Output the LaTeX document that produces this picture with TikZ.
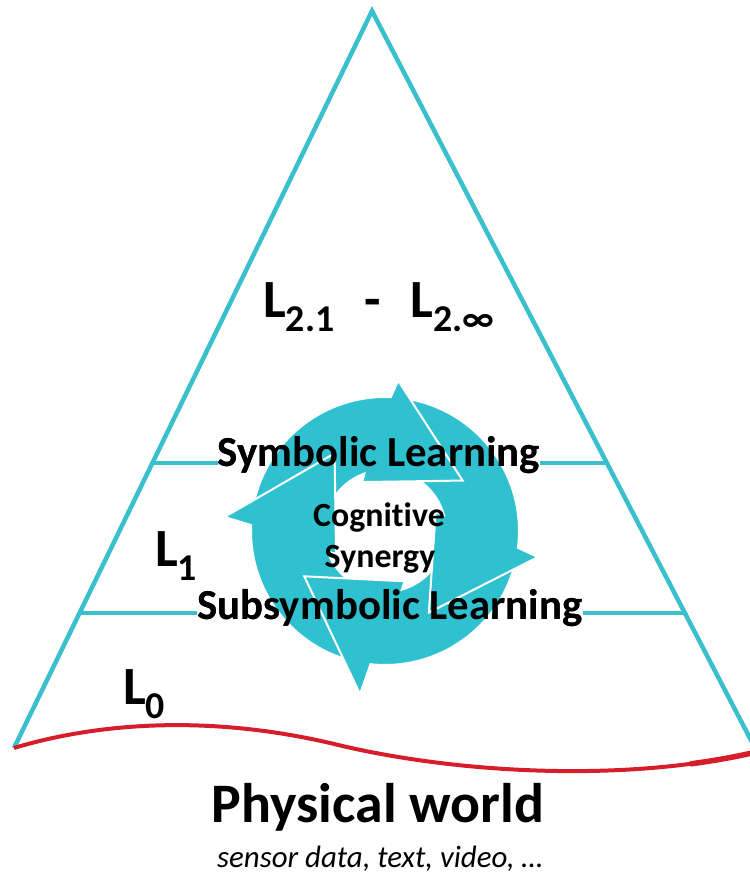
\documentclass[tikz,border=0pt]{standalone}
\usepackage{fontspec}
\setmainfont{Carlito}[Ligatures=NoCommon]
\usetikzlibrary{calc}
\definecolor{ringc}{RGB}{48,193,208}
\definecolor{linec}{RGB}{58,192,204}
\definecolor{redc}{RGB}{214,30,42}
\newcommand\lsub[1]{\raisebox{-14bp}{\fontsize{38}{38}\selectfont #1}}
% #1 rotation, #2 local tail angle, #3 tip radius
\newcommand\cycarrow[3]{%
  \path[ringarrow,shift={(C)},rotate=#1] (#2:134) arc[start angle=#2,end angle=87.5,radius=134]
    -- (85:#3) -- (33:92.6) -- (115:54) -- (109.8:61)
    arc[start angle=109.8,end angle=#2,radius=61] -- cycle;}
\begin{document}
\begin{tikzpicture}[x=1bp,y=1bp,
  tri/.style={draw=linec,line width=4.5bp,line join=miter},
  hline/.style={draw=linec,line width=4.5bp},
  ringarrow/.style={fill=ringc,draw=white,line width=2bp,line join=miter},
  bigL/.style={font=\fontsize{54}{54}\selectfont\bfseries,inner sep=0pt,anchor=base west},
  lbl/.style={inner sep=0pt,anchor=base},
  lvl/.style={lbl,font=\fontsize{43}{43}\selectfont\bfseries}]
\useasboundingbox (0,0) rectangle (750,883);
\coordinate (A) at (372,872);
\coordinate (BL) at (14,135);
\coordinate (BR) at (755,135);
\coordinate (C) at (385,352);
\coordinate (uL) at ($(A)!0.6133!(BL)$);
\coordinate (uR) at ($(A)!0.6133!(BR)$);
\coordinate (lL) at ($(A)!0.8168!(BL)$);
\coordinate (lR) at ($(A)!0.8168!(BR)$);

% triangle
\draw[tri] (BL) -- (A) -- (BR);

% level text nodes (placed first so the lines can reach them)
\node[lvl] (sym) at (379,416) {Symbolic Learning};
\node[lvl] (sub) at (390,263) {Subsymbolic Learning};

% level lines
\draw[hline] (uL) -- (uL -| sym.west);
\draw[hline] (sym.east |- uR) -- (uR);
\draw[hline] (lL) -- (lL -| sub.west);
\draw[hline] (sub.east |- lR) -- (lR);

% cycle arrows
\cycarrow{90}{167.3}{161}
\cycarrow{-183.7}{170}{165}
\cycarrow{-94.7}{175.7}{155}
\cycarrow{0}{171}{151}
\begin{scope}
  \clip (C) -- ++(118:180) arc[start angle=118,end angle=190,radius=180] -- cycle;
  \cycarrow{90}{167.3}{161}
\end{scope}

% texts on top of the cycle
\node[lvl] at (sym.base) {Symbolic Learning};
\node[lvl] at (sub.base) {Subsymbolic Learning};
\node[lbl,font=\fontsize{34}{34}\selectfont\bfseries] (cog) at (379,356) {Cognitive};
\node[lbl,font=\fontsize{34}{34}\selectfont\bfseries] (syn) at (380,315) {Synergy};

\node[bigL] (l2) at (263,565) {L\lsub{2.1}\hspace{30bp}-\hspace{30bp}L\lsub{2.∞}};
\node[bigL] (l1) at (155,316) {L\lsub{1}};
\node[bigL] (l0) at (123,178) {L\lsub{0}};

% physical world
\draw[draw=redc,line width=4bp] (BL) .. controls (90,158) and (200,170) .. (330,140)
  .. controls (450,110) and (620,100) .. (752,130);
\draw[draw=redc,line width=5.5bp] (690.3,119.1) .. controls (711.5,121.9) and (732.2,125.5) .. (752,130);
\node[lbl,font=\fontsize{56}{56}\selectfont\bfseries] (pw) at (378,60) {Physical world};
\node[lbl,font=\fontsize{31}{31}\selectfont\itshape] (sd) at (380,15) {sensor data, text, video, …};
\end{tikzpicture}
\end{document}
